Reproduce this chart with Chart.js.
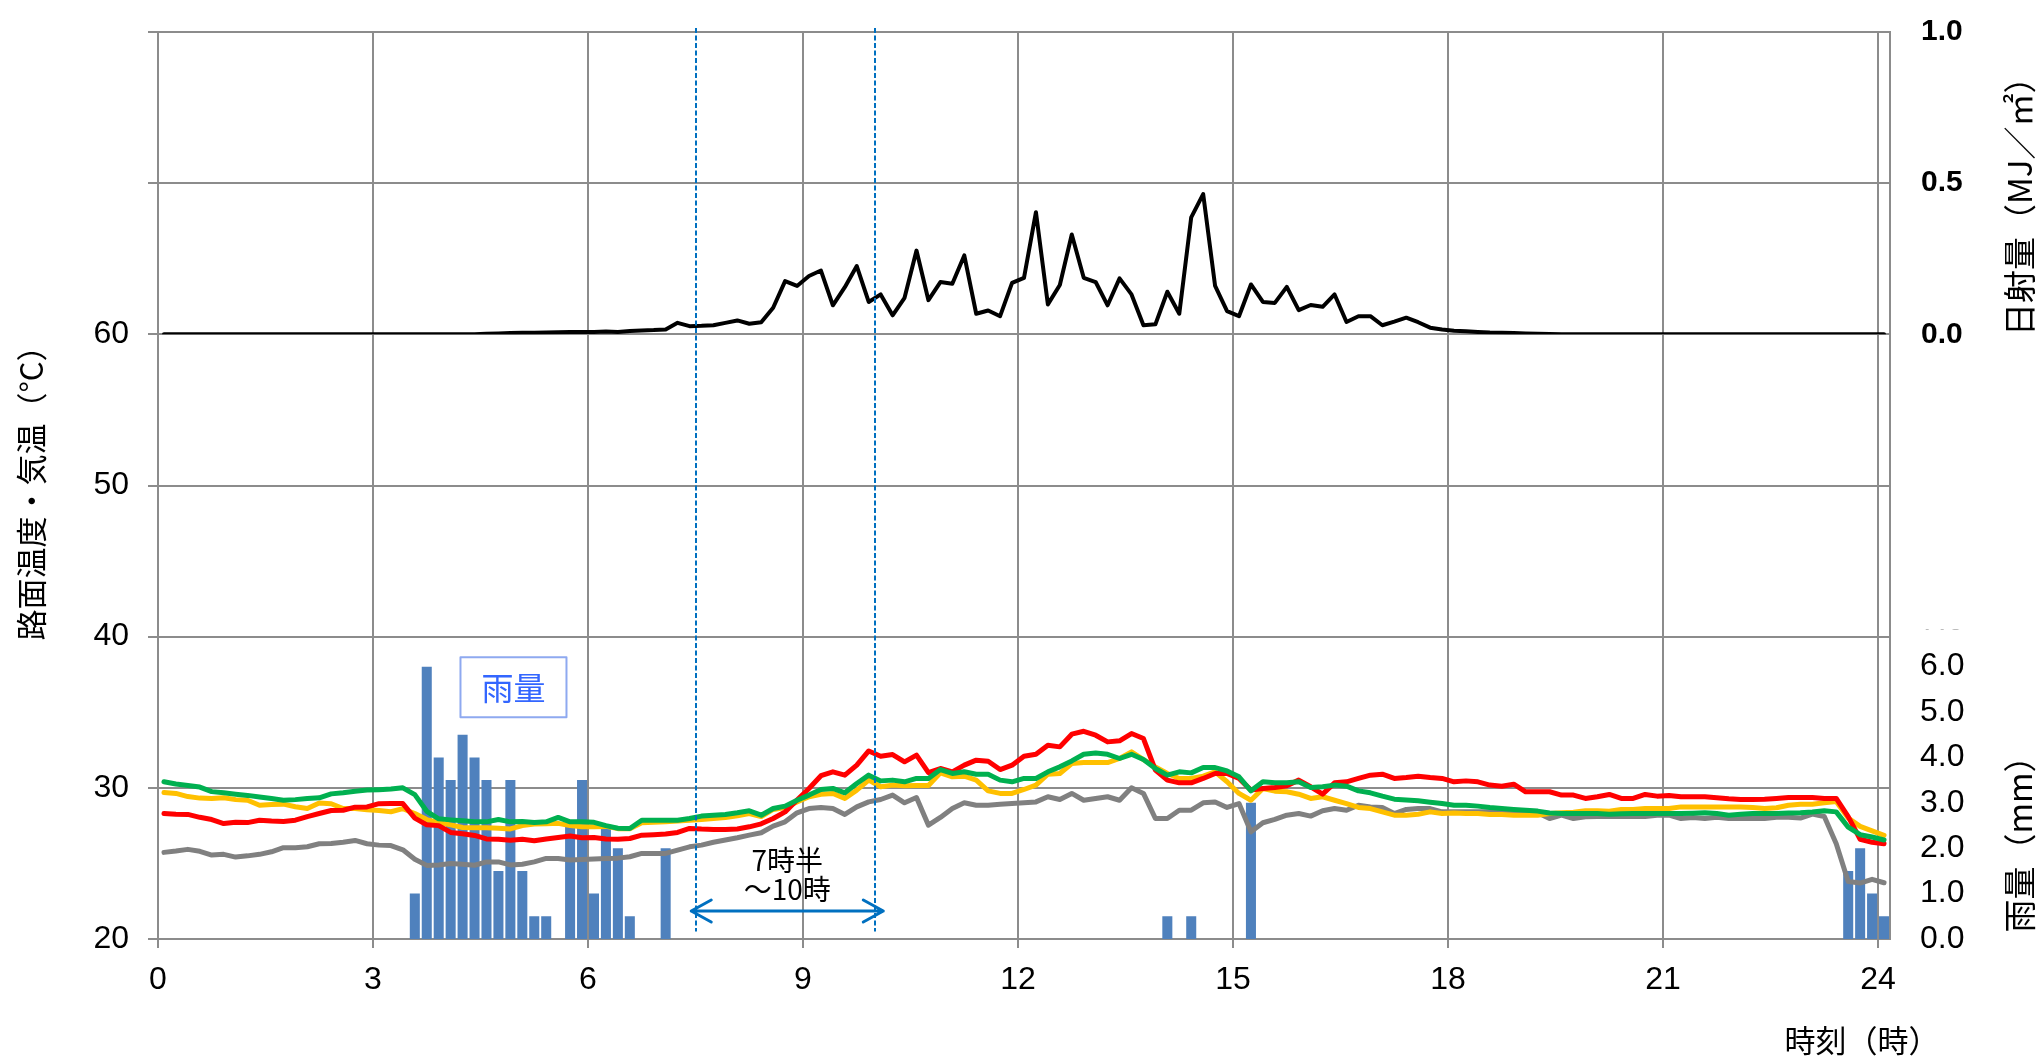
<!DOCTYPE html>
<html lang="ja">
<head>
<meta charset="utf-8">
<title>路面温度・気温・日射量・雨量</title>
<script src="https://cdn.jsdelivr.net/npm/chart.js@4"></script>
<style>
  html, body { margin: 0; padding: 0; background: #fff; }
  #c { display: block; }
</style>
</head>
<body>
<canvas id="c" width="2040" height="1057"></canvas>
<script>
// ---- data: 10-minute samples, 0:00 .. 24:00 (145 samples) ----
const SLOT_MIN = 10;
const sampleMinutes = Array.from({ length: 145 }, (_, i) => i * SLOT_MIN);
// each sample is plotted in the middle of its 10-minute slot
const slotCenterHours = sampleMinutes.map(m => (m + SLOT_MIN / 2) / 60);

const hourTicks = [0, 3, 6, 9, 12, 15, 18, 21, 24];
const tempTicks = [20, 30, 40, 50, 60, 70, 80];
const tempLabelMax = 60;
const solarTicks = [0, 0.5, 1.0];
const rainTicks = [0, 1, 2, 3, 4, 5, 6, 7];

// road surface temperature, red pavement (°C)
const roadRed = [
  28.3, 28.25, 28.24, 28.05, 27.9, 27.64, 27.73, 27.7, 27.86, 27.8,
  27.78, 27.86, 28.1, 28.3, 28.5, 28.52, 28.72, 28.74, 28.95, 28.96,
  28.96, 28.0, 27.55, 27.5, 27.05, 26.96, 26.85, 26.62, 26.6, 26.54,
  26.6, 26.5, 26.62, 26.72, 26.81, 26.7, 26.72, 26.62, 26.6, 26.65,
  26.87, 26.9, 26.94, 27.05, 27.31, 27.27, 27.25, 27.25, 27.28, 27.42,
  27.62, 27.97, 28.41, 29.2, 29.96, 30.8, 31.06, 30.84, 31.5, 32.44,
  32.09, 32.2, 31.72, 32.16, 31.0, 31.28, 31.06, 31.5, 31.83, 31.76,
  31.21, 31.5, 32.09, 32.22, 32.82, 32.71, 33.55, 33.74, 33.48, 33.04,
  33.11, 33.59, 33.26, 31.17, 30.51, 30.33, 30.33, 30.62, 30.95, 30.95,
  30.62, 29.85, 29.96, 30.02, 30.13, 30.51, 30.07, 29.58, 30.33, 30.4,
  30.62, 30.84, 30.9, 30.62, 30.68, 30.77, 30.68, 30.62, 30.4, 30.46,
  30.4, 30.18, 30.11, 30.24, 29.74, 29.74, 29.74, 29.52, 29.52, 29.3,
  29.41, 29.56, 29.3, 29.3, 29.56, 29.45, 29.5, 29.41, 29.41, 29.41,
  29.35, 29.28, 29.23, 29.23, 29.25, 29.3, 29.36, 29.36, 29.36, 29.3,
  29.3, 28.1, 26.6, 26.4, 26.3
];

// road surface temperature, green pavement (°C)
const roadGreen = [
  30.4, 30.25, 30.15, 30.05, 29.75, 29.67, 29.58, 29.5, 29.4, 29.3,
  29.18, 29.22, 29.3, 29.34, 29.6, 29.68, 29.78, 29.85, 29.88, 29.92,
  30.0, 29.55, 28.45, 27.95, 27.88, 27.82, 27.75, 27.75, 27.9, 27.75,
  27.78, 27.7, 27.75, 28.04, 27.75, 27.75, 27.72, 27.5, 27.33, 27.31,
  27.86, 27.86, 27.86, 27.86, 27.97, 28.13, 28.18, 28.24, 28.35, 28.48,
  28.19, 28.63, 28.79, 29.18, 29.52, 29.89, 29.96, 29.67, 30.29, 30.84,
  30.46, 30.51, 30.4, 30.62, 30.62, 31.21, 30.95, 31.06, 30.9, 30.9,
  30.51, 30.4, 30.62, 30.62, 31.06, 31.39, 31.78, 32.22, 32.31, 32.22,
  31.94, 32.22, 31.87, 31.28, 30.84, 31.06, 30.99, 31.34, 31.34, 31.12,
  30.73, 29.8, 30.4, 30.33, 30.33, 30.4, 30.02, 30.07, 30.18, 30.11,
  29.8, 29.67, 29.45, 29.25, 29.2, 29.14, 29.05, 28.96, 28.85, 28.85,
  28.79, 28.7, 28.63, 28.57, 28.52, 28.46, 28.33, 28.3, 28.3, 28.3,
  28.3, 28.26, 28.28, 28.3, 28.3, 28.3, 28.3, 28.3, 28.32, 28.35,
  28.3, 28.19, 28.25, 28.3, 28.3, 28.3, 28.33, 28.35, 28.4, 28.48,
  28.41, 27.4, 26.9, 26.75, 26.55
];

// road surface temperature, yellow pavement (°C)
const roadYellow = [
  29.69, 29.63, 29.42, 29.32, 29.3, 29.35, 29.22, 29.18, 28.85, 28.9,
  28.92, 28.75, 28.63, 29.0, 28.95, 28.63, 28.63, 28.55, 28.5, 28.42,
  28.62, 28.3, 27.9, 27.7, 27.55, 27.38, 27.36, 27.36, 27.33, 27.28,
  27.5, 27.6, 27.62, 27.65, 27.5, 27.42, 27.42, 27.45, 27.3, 27.3,
  27.69, 27.72, 27.75, 27.8, 27.86, 27.9, 27.97, 28.04, 28.15, 28.3,
  28.1, 28.57, 28.7, 29.07, 29.41, 29.58, 29.63, 29.3, 29.85, 30.51,
  30.07, 30.18, 30.13, 30.15, 30.15, 30.99, 30.73, 30.77, 30.51, 29.8,
  29.63, 29.63, 29.89, 30.18, 30.9, 30.95, 31.61, 31.67, 31.67, 31.67,
  31.94, 32.38, 31.87, 31.39, 30.95, 30.62, 30.62, 30.77, 31.06, 30.4,
  29.63, 29.18, 29.96, 29.78, 29.74, 29.58, 29.3, 29.41, 29.18, 28.96,
  28.7, 28.63, 28.41, 28.19, 28.19, 28.25, 28.41, 28.3, 28.33, 28.3,
  28.3, 28.24, 28.24, 28.19, 28.19, 28.19, 28.3, 28.35, 28.39, 28.48,
  28.48, 28.45, 28.57, 28.57, 28.63, 28.63, 28.63, 28.74, 28.74, 28.74,
  28.74, 28.74, 28.74, 28.7, 28.63, 28.68, 28.85, 28.92, 28.92, 29.01,
  29.1, 28.0, 27.45, 27.15, 26.85
];

// air temperature (°C)
const airTemp = [
  25.73, 25.82, 25.93, 25.8, 25.55, 25.6, 25.42, 25.5, 25.6, 25.77,
  26.04, 26.04, 26.1, 26.3, 26.32, 26.4, 26.52, 26.3, 26.21, 26.18,
  25.9, 25.28, 24.87, 24.9, 25.0, 24.95, 24.88, 25.1, 25.1, 24.9,
  24.95, 25.1, 25.33, 25.33, 25.22, 25.26, 25.3, 25.33, 25.35, 25.44,
  25.66, 25.66, 25.66, 25.88, 26.1, 26.21, 26.4, 26.55, 26.7, 26.87,
  27.03, 27.47, 27.75, 28.35, 28.63, 28.7, 28.63, 28.24, 28.74, 29.07,
  29.23, 29.52, 29.01, 29.36, 27.53, 28.04, 28.63, 29.01, 28.85, 28.85,
  28.92, 28.96, 29.01, 29.07, 29.41, 29.23, 29.63, 29.18, 29.3, 29.41,
  29.18, 30.0, 29.63, 27.97, 27.97, 28.52, 28.52, 29.01, 29.07, 28.7,
  28.96, 27.09, 27.69, 27.91, 28.19, 28.3, 28.13, 28.48, 28.63, 28.52,
  28.85, 28.74, 28.7, 28.3, 28.57, 28.63, 28.63, 28.41, 28.41, 28.41,
  28.41, 28.41, 28.41, 28.3, 28.35, 28.35, 27.97, 28.19, 27.97, 28.08,
  28.1, 28.1, 28.1, 28.1, 28.1, 28.19, 28.19, 27.97, 28.03, 27.97,
  28.05, 27.97, 27.97, 27.97, 27.97, 28.05, 28.05, 28.0, 28.26, 28.1,
  26.3, 23.8, 23.7, 23.95, 23.72
];

// solar radiation per 10 minutes (MJ/m²)
const solar = [
  0, 0, 0, 0, 0, 0, 0, 0, 0, 0,
  0, 0, 0, 0, 0, 0, 0, 0, 0, 0,
  0, 0, 0, 0, 0, 0, 0, 0.002, 0.003, 0.004,
  0.005, 0.005, 0.006, 0.007, 0.008, 0.008, 0.008, 0.009, 0.008, 0.011,
  0.013, 0.014, 0.016, 0.038, 0.027, 0.028, 0.03, 0.038, 0.046, 0.035,
  0.04, 0.088, 0.176, 0.16, 0.193, 0.211, 0.096, 0.156, 0.226, 0.107,
  0.132, 0.063, 0.121, 0.277, 0.113, 0.173, 0.167, 0.261, 0.068, 0.079,
  0.06, 0.17, 0.187, 0.404, 0.099, 0.163, 0.33, 0.187, 0.173, 0.096,
  0.185, 0.132, 0.03, 0.033, 0.141, 0.068, 0.387, 0.464, 0.16, 0.077,
  0.06, 0.165, 0.107, 0.104, 0.157, 0.08, 0.097, 0.091, 0.132, 0.041,
  0.06, 0.06, 0.03, 0.042, 0.055, 0.04, 0.022, 0.016, 0.012, 0.01,
  0.008, 0.006, 0.005, 0.004, 0.003, 0.002, 0.001, 0, 0, 0,
  0, 0, 0, 0, 0, 0, 0, 0, 0, 0,
  0, 0, 0, 0, 0, 0, 0, 0, 0, 0,
  0, 0, 0, 0, 0
];

// rainfall per 10 minutes (mm)
const rain = [
  0, 0, 0, 0, 0, 0, 0, 0, 0, 0,
  0, 0, 0, 0, 0, 0, 0, 0, 0, 0,
  0, 1.0, 6.0, 4.0, 3.5, 4.5, 4.0, 3.5, 1.5, 3.5,
  1.5, 0.5, 0.5, 0, 2.5, 3.5, 1.0, 2.5, 2.0, 0.5,
  0, 0, 2.0, 0, 0, 0, 0, 0, 0, 0,
  0, 0, 0, 0, 0, 0, 0, 0, 0, 0,
  0, 0, 0, 0, 0, 0, 0, 0, 0, 0,
  0, 0, 0, 0, 0, 0, 0, 0, 0, 0,
  0, 0, 0, 0, 0.5, 0, 0.5, 0, 0, 0,
  0, 3.0, 0, 0, 0, 0, 0, 0, 0, 0,
  0, 0, 0, 0, 0, 0, 0, 0, 0, 0,
  0, 0, 0, 0, 0, 0, 0, 0, 0, 0,
  0, 0, 0, 0, 0, 0, 0, 0, 0, 0,
  0, 0, 0, 0, 0, 0, 0, 0, 0, 0,
  0, 1.5, 2.0, 1.0, 0.5
];

// observation window marked on the chart (hours)
const windowHours = [7.5, 10];

// ---- styling ----
const GRID = '#8c8c8c';
const NUM_FONT = '"Liberation Sans", Arial, sans-serif';
const JP_FONT = '"Noto Sans CJK JP", "Noto Sans CJK SC", sans-serif';
const BLUE = '#0070c0';

Chart.defaults.font.family = NUM_FONT;
Chart.defaults.color = '#000';

const pts = arr => arr.map((v, i) => ({ x: slotCenterHours[i], y: v }));
const xMax = (sampleMinutes.length * SLOT_MIN) / 60;

function tempLine(label, values, color, order) {
  return {
    type: 'line', label, data: pts(values), yAxisID: 'y', order,
    borderColor: color, borderWidth: 5, pointRadius: 0, tension: 0,
    borderJoinStyle: 'round', borderCapStyle: 'round', fill: false
  };
}

// vertical scales: let the tick labels overhang the plot instead of shrinking it
function noEdgePadding(s) {
  s.paddingTop = 0;
  s.paddingBottom = 0;
}

function verticalText(ctx, text, x, y) {
  ctx.save();
  ctx.translate(x, y);
  ctx.rotate(-Math.PI / 2);
  ctx.fillText(text, 0, 0);
  ctx.restore();
}

// guides, arrow, notes and the rain label box
const overlay = {
  id: 'overlay',
  afterDatasetsDraw(chart) {
    const { ctx, chartArea, scales } = chart;
    const xs = scales.x, ys = scales.y;
    ctx.save();

    ctx.strokeStyle = BLUE;
    ctx.lineWidth = 2;
    ctx.setLineDash([5, 2.5]);
    for (const h of windowHours) {
      const px = Math.round(xs.getPixelForValue(h));
      ctx.beginPath();
      ctx.moveTo(px, chartArea.top - 4);
      ctx.lineTo(px, ys.getPixelForValue(20.5));
      ctx.stroke();
    }
    ctx.setLineDash([]);

    const ay = ys.getPixelForValue(21.85);
    const ax1 = xs.getPixelForValue(windowHours[0] - 0.06);
    const ax2 = xs.getPixelForValue(windowHours[1] + 0.12);
    ctx.lineWidth = 3;
    ctx.lineCap = 'round';
    ctx.lineJoin = 'round';
    ctx.beginPath();
    ctx.moveTo(ax1, ay); ctx.lineTo(ax2, ay);
    ctx.moveTo(ax1 + 20, ay - 11); ctx.lineTo(ax1, ay); ctx.lineTo(ax1 + 20, ay + 11);
    ctx.moveTo(ax2 - 20, ay - 11); ctx.lineTo(ax2, ay); ctx.lineTo(ax2 - 20, ay + 11);
    ctx.stroke();

    ctx.fillStyle = '#000';
    ctx.font = `28px ${JP_FONT}`;
    ctx.textAlign = 'center';
    ctx.textBaseline = 'middle';
    const lx = xs.getPixelForValue(8.78);
    ctx.fillText('7時半', lx, ys.getPixelForValue(25.22));
    ctx.fillText('～10時', lx, ys.getPixelForValue(23.3));

    const bx = xs.getPixelForValue(4.96), by = ys.getPixelForValue(36.66);
    ctx.fillStyle = '#fff';
    ctx.fillRect(bx - 53, by - 30, 106, 60);
    ctx.strokeStyle = '#8ea9f0';
    ctx.lineWidth = 2;
    ctx.strokeRect(bx - 53, by - 30, 106, 60);
    ctx.fillStyle = '#3366ff';
    ctx.font = `32px ${JP_FONT}`;
    ctx.fillText('雨量', bx, by + 1);

    ctx.restore();
  },
  afterDraw(chart) {
    const { ctx, chartArea, scales: { ySolar, yRain } } = chart;
    ctx.save();
    // the rain scale's top label sits partly under the solar panel
    const r7 = yRain.getPixelForValue(rainTicks[rainTicks.length - 1]);
    ctx.fillStyle = '#fff';
    ctx.fillRect(chartArea.right + 3, r7 - 30, 120, 38.5);

    ctx.fillStyle = '#000';
    ctx.textAlign = 'center';
    ctx.textBaseline = 'middle';
    ctx.font = `33px ${JP_FONT}`;
    verticalText(ctx, '日射量（MJ／㎡）', chartArea.right + 129, ySolar.top + (ySolar.bottom - ySolar.top) * 0.55);
    verticalText(ctx, '雨量（mm）', chartArea.right + 129, yRain.getPixelForValue(2.27));
    ctx.font = `31px ${JP_FONT}`;
    ctx.fillText('時刻（時）', chartArea.right - 28, chartArea.bottom + 101);
    ctx.restore();
  }
};

new Chart(document.getElementById('c'), {
  type: 'line',
  data: {
    datasets: [
      {
        type: 'line', label: '日射量', data: pts(solar), yAxisID: 'ySolar', order: 0,
        borderColor: '#000', borderWidth: 4, pointRadius: 0, tension: 0,
        borderJoinStyle: 'round', borderCapStyle: 'round', fill: false
      },
      tempLine('路面温度（緑）', roadGreen, '#00b050', 1),
      tempLine('路面温度（赤）', roadRed, '#ff0000', 2),
      tempLine('路面温度（黄）', roadYellow, '#ffc000', 3),
      tempLine('気温', airTemp, '#808080', 4),
      {
        type: 'bar', label: '雨量', data: pts(rain), yAxisID: 'yRain', order: 10,
        backgroundColor: '#4f81bd', borderWidth: 0,
        barPercentage: 0.84, categoryPercentage: 1.0, grouped: false
      }
    ]
  },
  options: {
    responsive: false,
    devicePixelRatio: 1,
    animation: false,
    layout: { padding: { top: 32, left: 0, right: 0, bottom: 0 } },
    plugins: { legend: { display: false }, tooltip: { enabled: false } },
    scales: {
      x: {
        type: 'linear', min: 0, max: xMax, offset: false,
        afterBuildTicks: s => { s.ticks = hourTicks.map(v => ({ value: v })); },
        afterFit: s => { s.height = 118; },
        grid: { color: GRID, lineWidth: 2, tickLength: 9, offset: false },
        border: { color: GRID, width: 2 },
        ticks: {
          font: { size: 32 }, color: '#000', padding: 13,
          maxRotation: 0, autoSkip: false, callback: v => String(v)
        }
      },
      y: {
        position: 'left', min: tempTicks[0], max: tempTicks[tempTicks.length - 1],
        afterBuildTicks: s => { s.ticks = tempTicks.map(v => ({ value: v })); },
        afterFit: s => { s.width = 158; noEdgePadding(s); },
        grid: { color: GRID, lineWidth: 2, tickLength: 10 },
        border: { color: GRID, width: 2 },
        ticks: {
          font: { size: 32 }, color: '#000', padding: 19,
          callback: v => (v <= tempLabelMax ? String(v) : '')
        },
        title: {
          display: true, text: '路面温度・気温（°C）', color: '#000',
          font: { family: JP_FONT, size: 31 }, padding: { top: 13, bottom: 0 }
        }
      },
      ySolar: {
        position: 'right', stack: 'right', stackWeight: 1, weight: 1,
        min: solarTicks[0], max: solarTicks[solarTicks.length - 1],
        afterBuildTicks: s => { s.ticks = solarTicks.map(v => ({ value: v })); },
        afterFit: s => { s.width = 150; noEdgePadding(s); },
        grid: { display: false, drawTicks: false },
        border: { display: true, color: GRID, width: 2 },
        ticks: {
          font: { size: 30, weight: 'bold' }, color: '#000', padding: 31,
          callback: v => v.toFixed(1)
        }
      },
      yRain: {
        position: 'right', stack: 'right', stackWeight: 2, weight: 2,
        min: 0, max: 13.32,
        afterBuildTicks: s => { s.ticks = rainTicks.map(v => ({ value: v })); },
        afterFit: s => { s.width = 150; noEdgePadding(s); },
        grid: { display: false, drawTicks: false },
        border: { display: true, color: GRID, width: 2 },
        ticks: {
          font: { size: 32 }, color: '#000', padding: 30,
          callback: v => v.toFixed(1)
        }
      }
    }
  },
  plugins: [overlay]
});
</script>
</body>
</html>
